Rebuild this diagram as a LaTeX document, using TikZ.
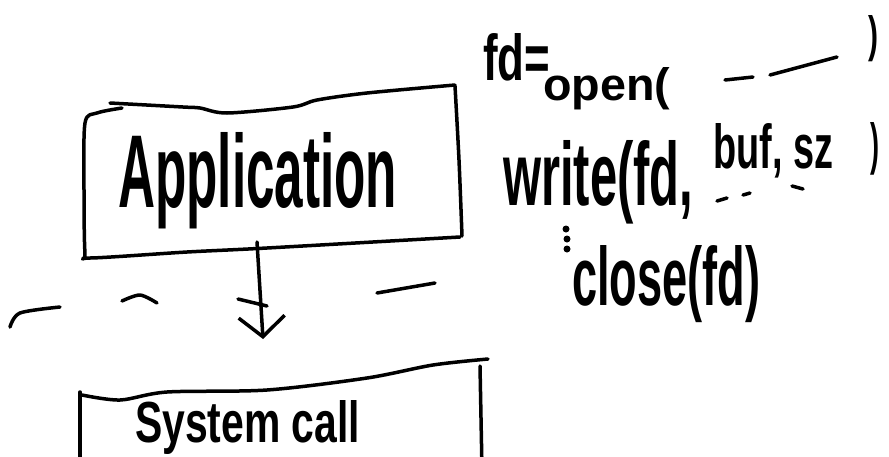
\documentclass[tikz,border=0pt]{standalone}
\usepackage{fontspec}
\setmainfont{Liberation Sans}
\usepackage{graphicx}
\usetikzlibrary{arrows.meta}
\begin{document}
\begin{tikzpicture}[x=1pt,y=-1pt,
  ink/.style={line width=3.5pt, line cap=round, line join=round, black},
  lbl/.style={inner sep=0pt, anchor=base west, font=\bfseries}]
\useasboundingbox (0,0) rectangle (889,456);
\clip (0,0) rectangle (889,456);
\fill[white] (0,0) rectangle (889,456);
% Application box
\draw[ink] plot[smooth, tension=0.5] coordinates {(110,103) (183,107) (200,108) (227,113) (293,107) (317,100) (367,93) (455,85)};
\draw[ink] plot[smooth, tension=0.5] coordinates {(122,108) (97,113) (85,123) (84,190) (85,253) (90,258) (187,252) (267,248) (460,237)};
\draw[ink] plot[smooth, tension=0.5] coordinates {(455,86) (459,160) (462,236)};
\node[lbl] (apptext) at (118,207) {\resizebox{279pt}{75pt}{Application}};
% arrow
\coordinate (a1) at (257,242);
\coordinate (a2) at (263,339);
\draw[ink, -{Straight Barb[length=20pt,width=46pt]}] (a1) -- (a2);
% dashed boundary
\draw[ink] plot[smooth] coordinates {(10,327) (20,313) (60,307)};
\draw[ink] plot[smooth] coordinates {(122,301) (140,295) (157,303)};
\draw[ink] (238,299) -- (267,306);
\draw[ink] (377,293) -- (435,283);
% System call box
\draw[ink] plot[smooth, tension=0.5] coordinates {(82,395) (120,400) (167,392) (267,390) (367,378) (433,365) (488,359)};
\draw[ink] (80,392) -- (80,470);
\draw[ink] (480,366) -- (482,470);
\node[lbl] (sys) at (135,442) {\resizebox{225pt}{42pt}{System call}};
% code text
\node[lbl] (fd) at (483,80) {\resizebox{67pt}{47pt}{fd=}};
\node[lbl] (open) at (543,100) {\resizebox{127pt}{33pt}{open(}};
\coordinate (d1a) at (725,80); \coordinate (d1b) at (753,77);
\coordinate (d2a) at (770,75); \coordinate (d2b) at (837,57);
\draw[ink] (d1a) -- (d1b);
\draw[ink] (d2a) -- (d2b);
\node[lbl] (rp1) at (868,51) {\resizebox{10pt}{36pt}{)}};
\node[lbl] (write) at (503,205) {\resizebox{190pt}{65pt}{write(fd,}};
\node[lbl] (args) at (713,168) {\resizebox{120pt}{45pt}{buf, sz}};
\draw[ink] (717,201) -- (727,198);
\draw[ink] (743,195) -- (750,193);
\draw[ink] (792,186) -- (803,189);
\node[lbl] (rp2) at (870,163) {\resizebox{9pt}{41pt}{)}};
\fill (566,229) circle (3.5pt);
\fill (567,239) circle (3.5pt);
\fill (567,249) circle (3.5pt);
\node[lbl] (close) at (572,305) {\resizebox{188pt}{60pt}{close(fd)}};
\end{tikzpicture}
\end{document}
